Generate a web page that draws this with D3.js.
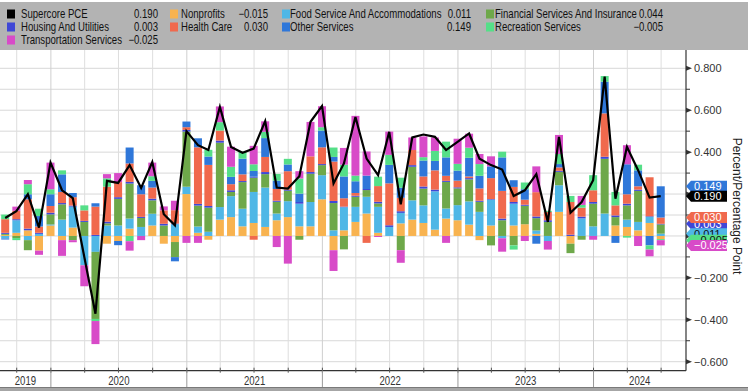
<!DOCTYPE html>
<html><head><meta charset="utf-8">
<script src="https://cdn.jsdelivr.net/npm/d3@7"></script>
<style>
html,body{margin:0;padding:0;background:#fff;}
svg{display:block;}
</style></head><body>
<svg id="chart" width="748" height="391"></svg>
<script>
const months = ["2019-08","2019-09","2019-10","2019-11","2019-12",
"2020-01","2020-02","2020-03","2020-04","2020-05","2020-06","2020-07","2020-08","2020-09","2020-10","2020-11","2020-12",
"2021-01","2021-02","2021-03","2021-04","2021-05","2021-06","2021-07","2021-08","2021-09","2021-10","2021-11","2021-12",
"2022-01","2022-02","2022-03","2022-04","2022-05","2022-06","2022-07","2022-08","2022-09","2022-10","2022-11","2022-12",
"2023-01","2023-02","2023-03","2023-04","2023-05","2023-06","2023-07","2023-08","2023-09","2023-10","2023-11","2023-12",
"2024-01","2024-02","2024-03","2024-04","2024-05","2024-06"];

const supercore = [0.086,0.118,0.199,0.04,0.35,0.218,0.18,-0.1,-0.371,0.263,
0.253,0.338,0.229,0.353,0.104,0.051,0.50,0.433,0.41,0.616,
0.425,0.397,0.417,0.548,0.231,0.226,0.285,0.545,0.62,0.25,
0.346,0.568,0.369,0.29,0.497,0.151,0.47,0.484,0.473,0.41,
0.449,0.489,0.369,0.338,0.317,0.191,0.218,0.295,0.067,0.473,
0.111,0.162,0.266,0.76,0.178,0.425,0.314,0.183,0.190];

const nonprofits = [0.005,0.015,0.027,-0.07,0.05,-0.02,0.04,0,0,-0.037,
-0.024,0.035,0,0.05,-0.037,-0.029,0.2,0.015,-0.018,0.078,
0.09,0.046,0.062,0.043,0.075,0.09,0.046,0.046,0.175,-0.068,
0.027,0.067,0.107,0.015,0,0.06,0.078,0.062,0.03,0.083,
0.075,0.054,-0.02,0.05,0,0.05,0.056,0.01,0,0.115,
-0.037,0,0,0,0.05,0.043,0.027,0.062,-0.015];

const foodService = [-0.012,0.06,-0.02,0.01,0.005,0.078,0.1,-0.14,-0.076,0.05,
0.05,0.048,0.043,0.056,0,0.056,0.035,0.03,0.02,0.06,
0.1,0.084,0.148,0.188,0.032,0.076,0.108,0.116,0.115,0.027,
0.11,0.072,0.08,0.124,0.043,0.05,0.092,0.084,0.183,0.048,
0.072,0.111,0.115,0.123,-0.011,0.104,0,0.016,-0.024,0.127,
0,0.084,0.046,0.107,0,0.035,0.04,0.029,0.011];

const financial = [0.005,-0.01,-0.048,0,0.048,0.073,-0.02,0.067,-0.32,0.01,
0.127,0.167,0.043,0.064,0.05,-0.072,0.263,0.1,0.115,0.307,
0.02,0.127,0.068,0.064,0.056,0.05,-0.018,0.135,0.048,0.13,
-0.064,0.048,0.032,0.016,0,-0.068,0.16,0.08,0,0.127,
0.08,0.105,0.048,-0.045,0.075,-0.045,0.088,0.059,0.067,0.064,
-0.045,-0.018,0.108,0.261,0.04,0.068,0.148,0,0.044];

const housing = [0.005,0.005,0.008,0.005,0.008,0.006,0.005,0.005,0.005,0.008,
0.008,0.008,0.005,0.008,0.008,0.003,0.008,0.008,0.008,0.01,
0.008,0.005,0.005,0.01,0.005,0.005,0.008,0.008,0.005,0.01,
0.003,0.005,0.005,0.008,0.008,0.008,0.008,0.01,0.008,0.005,
0.005,0.006,0.005,0.003,0.008,0.008,0.005,0.008,0.008,0.005,
0.006,0.008,0.008,0.01,0.008,0.008,0.006,0.003,0.003];

const healthCare = [0.065,0.04,0.14,0.03,0.032,0.053,0.04,0.05,0.135,0.167,
0.072,0.088,0.108,0.053,0.064,0.064,0.013,0.27,0.196,0.048,
0.029,0.032,-0.018,0.072,0.056,0.088,0,0.075,0.08,0.188,
0.04,0.013,-0.033,0.075,0.2,0.064,0.072,0.048,0.092,0.024,
0.032,0.008,0.059,0.1,0.132,0.072,0.024,0.116,0.04,0.016,
0.156,0.043,0.056,0.207,0.048,0.045,0.016,0.186,0.030];

const otherServices = [-0.005,0,0.024,0.05,0.056,0.084,0.02,0,0.016,0,
-0.02,0.076,0.043,0.032,0,-0.02,0.027,0.043,0.04,0,
0.035,0.075,0.027,0.09,0.04,0.032,0.04,0,0.08,0.022,
0.104,0.056,0.064,0,0.088,0.048,0,0.076,0.045,0.088,
0.048,0.089,0.06,0.056,0.16,0.032,0.05,-0.037,0,0.016,
0,0,0,0.151,-0.033,0.143,0.076,-0.045,0.149];

const recreation = [0.022,-0.01,0.048,0.035,0.024,0.019,0,0.024,-0.01,0.04,
0,-0.025,0,0.022,0,0,0,0,0.032,0.04,
0.048,0.032,0.032,0.03,0.032,0.027,0.072,0,0.016,0.045,
0.056,0.027,0,0.045,0.048,0.048,0,0.016,0.048,0.075,
0.032,0.048,0.056,0,0.027,-0.02,0.032,0,0.005,0.048,
0.029,0.013,0.072,0.027,0.064,-0.008,0.027,-0.02,-0.005];

const transportation = [0,0.02,0.02,-0.02,0.127,-0.075,-0.01,-0.1,-0.11,0.02,
0.043,-0.045,-0.02,0.065,0.019,0.045,-0.033,-0.033,0,0.075,
0.096,0,0.088,0.05,-0.053,-0.132,0.035,0.164,0.1,-0.099,
0.08,0.285,0.115,-0.005,0.111,-0.06,0.06,0.099,0.064,-0.033,
0.12,0.067,0.048,0.048,-0.064,0,-0.024,0.123,-0.041,0.091,
0,0.043,-0.018,0,0,0.091,-0.048,-0.032,-0.025];

const yTicks = [-0.6,-0.5,-0.4,-0.3,-0.2,-0.1,0,0.1,0.2,0.3,0.4,0.5,0.6,0.7,0.8];
const yearLabels = ["2019","2020","2021","2022","2023","2024"];

const series = [
  {key:"nonprofits", name:"Nonprofits", values:nonprofits, color:"#f8b350", dark:false},
  {key:"foodService", name:"Food Service And Accommodations", values:foodService, color:"#4fb7e6", dark:false},
  {key:"financial", name:"Financial Services And Insurance", values:financial, color:"#6ea84a", dark:true},
  {key:"housing", name:"Housing And Utilities", values:housing, color:"#3f47d6", dark:true},
  {key:"healthCare", name:"Health Care", values:healthCare, color:"#f0694d", dark:true},
  {key:"otherServices", name:"Other Services", values:otherServices, color:"#2f77d9", dark:true},
  {key:"recreation", name:"Recreation Services", values:recreation, color:"#55df88", dark:false},
  {key:"transportation", name:"Transportation Services", values:transportation, color:"#d84bc8", dark:true}
];
const byKey = Object.fromEntries(series.map(s=>[s.key,s]));

const REG = '"Liberation Sans",Arial,sans-serif';
const SQUEEZE = 0.8;

const svg = d3.select("#chart");
const W = 748, H = 391;
const plotTop = 50, plotBottom = 370.7, plotLeft = 0, plotRight = 686;

function ntext(parent, x0, y0, str, anchor, size, fill){
  return parent.append("text")
    .attr("transform",`translate(${x0},${y0}) scale(${SQUEEZE},1)`)
    .attr("dy","0.35em").attr("text-anchor",anchor||"start")
    .attr("font-family",REG).attr("font-size",size||12).attr("fill",fill||"#111").text(str);
}

const parse = d3.timeParse("%Y-%m");
const rows = months.map((m,i)=>{
  const r = {date: d3.timeDay.offset(d3.timeMonth.offset(parse(m),1),-1)};
  series.forEach(s=>r[s.key]=s.values[i]);
  r.supercore = supercore[i];
  return r;
});

const x = d3.scaleTime().domain([new Date(2019,7,17), new Date(2024,8,6)]).range([plotLeft, plotRight]);
const y = d3.scaleLinear().domain([-0.6,0.8]).range([361.7,68.3]);

svg.append("rect").attr("width",W).attr("height",H).attr("fill","#fff");

// gridlines
const g = svg.append("g");
g.selectAll("line.h").data(yTicks).join("line")
  .attr("x1",plotLeft).attr("x2",plotRight)
  .attr("y1",d=>y(d)).attr("y2",d=>y(d))
  .attr("stroke","#d8d8d8").attr("stroke-width",1);
const quarters = d3.timeMonth.every(3).range(x.domain()[0], x.domain()[1]);
g.selectAll("line.v").data(quarters).join("line")
  .attr("x1",d=>x(d)).attr("x2",d=>x(d))
  .attr("y1",plotTop).attr("y2",plotBottom)
  .attr("stroke",d=>d.getMonth()===0?"#cfcfcf":"#dedede").attr("stroke-width",1);

// stacked bars
const stack = d3.stack().keys(series.map(s=>s.key)).offset(d3.stackOffsetDiverging);
const stacked = stack(rows);
const bw = 8;
svg.append("g").selectAll("g").data(stacked).join("g")
  .attr("fill",d=>byKey[d.key].color)
  .selectAll("rect").data(d=>d).join("rect")
  .attr("x",d=>x(d.data.date)-bw/2)
  .attr("width",bw)
  .attr("y",d=>y(Math.max(d[0],d[1])))
  .attr("height",d=>Math.abs(y(d[0])-y(d[1])));

// line
const line = d3.line().x(d=>x(d.date)).y(d=>y(d.supercore));
svg.append("path").datum(rows).attr("d",line)
  .attr("fill","none").attr("stroke","#000").attr("stroke-width",2.2).attr("stroke-linejoin","miter");

// end tag positions (end of each stacked segment of the latest bar)
const last = rows.length-1;
const fmt = v => d3.format(".3f")(v);
// series whose tags are fully hidden behind neighbours in the original are not drawn
const tagOrder = ["housing","healthCare","foodService","recreation","transportation","otherServices"];
const tags = tagOrder.map(k=>{
  const d = stacked.find(s=>s.key===k)[last];
  const v = byKey[k].values[last];
  return {yc: y(v>=0 ? d[1] : d[0]), color: byKey[k].color, txt: fmt(v), tc: byKey[k].dark?"#fff":"#111"};
});
tags.push({yc: y(supercore[last]), color:"#000", txt: fmt(supercore[last]), tc:"#fff"});

// right axis
const ax = svg.append("g");
ax.append("line").attr("x1",plotRight).attr("x2",plotRight).attr("y1",plotTop).attr("y2",plotBottom)
  .attr("stroke","#333").attr("stroke-width",1.2);
yTicks.forEach(v=>{
  const yy = y(v);
  const major = Math.round(v*10)%2===0;
  if(major){
    ax.append("path").attr("d",`M${plotRight},${yy-2.5}L${plotRight+6},${yy}L${plotRight},${yy+2.5}Z`).attr("fill","#333");
    const covered = tags.some(t=>Math.abs(t.yc-yy)<9);
    if(!covered){
      ax.append("text").attr("x",plotRight+8).attr("y",yy).attr("dy","0.35em")
        .attr("font-family",REG).attr("font-size",11).attr("fill","#333").text(d3.format(".3f")(v));
    }
  } else {
    ax.append("line").attr("x1",plotRight).attr("x2",plotRight+4).attr("y1",yy).attr("y2",yy)
      .attr("stroke","#333").attr("stroke-width",1);
  }
});

// x axis
const xa = svg.append("g");
xa.append("line").attr("x1",plotLeft).attr("x2",plotRight).attr("y1",plotBottom).attr("y2",plotBottom)
  .attr("stroke","#333").attr("stroke-width",1.2);
quarters.forEach(q=>{
  xa.append("line").attr("x1",x(q)).attr("x2",x(q)).attr("y1",plotBottom-3).attr("y2",plotBottom+2)
    .attr("stroke","#555").attr("stroke-width",1);
});
const years = d3.timeYear.range(new Date(2020,0,1), x.domain()[1]);
years.forEach(yv=>{
  xa.append("line").attr("x1",x(yv)).attr("x2",x(yv)).attr("y1",plotBottom).attr("y2",387)
    .attr("stroke","#999").attr("stroke-width",1);
});
yearLabels.forEach(lbl=>{
  const a = Math.max(x(new Date(+lbl,0,1)), plotLeft);
  const b = Math.min(x(new Date(+lbl+1,0,1)), plotRight);
  ntext(xa, (a+b)/2, 380.5, lbl, "middle", 12, "#333");
});
svg.append("rect").attr("x",0).attr("y",387).attr("width",W).attr("height",4).attr("fill","#a6a6a6");
svg.append("line").attr("x1",0).attr("x2",W).attr("y1",387.5).attr("y2",387.5).attr("stroke","#7a7a7a");

// axis title
svg.append("text").attr("transform","translate(737,206) rotate(90)")
  .attr("text-anchor","middle").attr("dy","0.35em")
  .attr("font-family",REG).attr("font-size",12).attr("fill","#222").text("Percent/Percentage Point");

// draw tags
tags.forEach(tg=>{
  const t = svg.append("g");
  t.append("path").attr("d",`M${plotRight},${tg.yc}L${plotRight+5},${tg.yc-5.5}L727,${tg.yc-5.5}L727,${tg.yc+5.5}L${plotRight+5},${tg.yc+5.5}Z`)
    .attr("fill",tg.color);
  t.append("text").attr("x",plotRight+8).attr("y",tg.yc).attr("dy","0.36em")
    .attr("font-family",REG).attr("font-size",11).attr("fill",tg.tc).text(tg.txt);
});

// legend band
svg.append("rect").attr("x",0).attr("y",2).attr("width",W).attr("height",48).attr("fill","#b3b3b3");
const cols = [{sw:7,tx:21,vr:158},{sw:170,tx:181,vr:268},{sw:282,tx:290,vr:471},{sw:486,tx:495,vr:663}];
const rowsY = [14,27,40];
const legendItems = [
  {name:"Supercore PCE", color:"#000", value:supercore[last], col:0,row:0},
  {name:"Nonprofits", color:byKey.nonprofits.color, value:nonprofits[last], col:1,row:0},
  {name:"Food Service And Accommodations", color:byKey.foodService.color, value:foodService[last], col:2,row:0},
  {name:"Financial Services And Insurance", color:byKey.financial.color, value:financial[last], col:3,row:0},
  {name:"Housing And Utilities", color:byKey.housing.color, value:housing[last], col:0,row:1},
  {name:"Health Care", color:byKey.healthCare.color, value:healthCare[last], col:1,row:1},
  {name:"Other Services", color:byKey.otherServices.color, value:otherServices[last], col:2,row:1},
  {name:"Recreation Services", color:byKey.recreation.color, value:recreation[last], col:3,row:1},
  {name:"Transportation Services", color:byKey.transportation.color, value:transportation[last], col:0,row:2}
];
const lg = svg.append("g");
legendItems.forEach(it=>{
  const c = cols[it.col], yy = rowsY[it.row];
  lg.append("rect").attr("x",c.sw).attr("y",yy-4.5).attr("width",8).attr("height",9).attr("fill",it.color);
  ntext(lg, c.tx, yy, it.name, "start", 12, "#111");
  ntext(lg, c.vr, yy, fmt(it.value), "end", 12, "#111");
});
</script>
</body></html>
